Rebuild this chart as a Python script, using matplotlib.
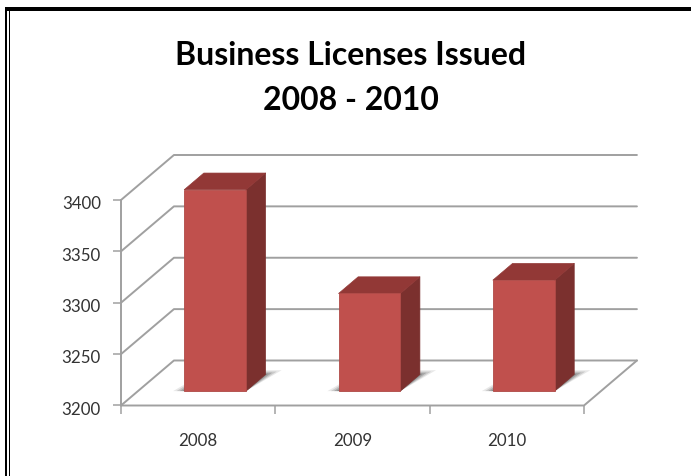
import matplotlib
matplotlib.use('Agg')
import matplotlib.pyplot as plt
from matplotlib.patches import Polygon, Rectangle
from matplotlib.transforms import ScaledTranslation

years = ['2008', '2009', '2010']
licenses = [3396, 3295, 3308]
y_ticks = [3200, 3250, 3300, 3350, 3400]

title = 'Business Licenses Issued\n2008 - 2010'

# how far the back wall sits from the front plane, in data units
DEPTH_X = 0.343
DEPTH_Y = 43.8
BAR_FRONT = 0.32
BAR_BACK = 0.69
BAR_WIDTH = 0.40

FRONT = '#C0504D'
SIDE = '#7B302E'
TOP = '#923836'
GRID = '#A0A0A0'
TEXT = '#333333'

W, H = 691, 476
plt.rcParams['font.family'] = ['Lato', 'DejaVu Sans']

fig = plt.figure(figsize=(W / 100, H / 100), dpi=100)
ax = fig.add_axes([121 / W, 1 - 405.5 / H, 463 / W, 205.5 / H])
ax.set_xlim(0, 3)
ax.set_ylim(3200, 3400)
for s in ax.spines.values():
    s.set_visible(False)
ax.patch.set_visible(False)


def project(x, y, depth):
    return x + DEPTH_X * depth, y + DEPTH_Y * depth


def line(points):
    xs = [p[0] for p in points]
    ys = [p[1] for p in points]
    ax.plot(xs, ys, color=GRID, lw=1.4, clip_on=False, zorder=1, solid_capstyle='round')


# walls and floor
for v in y_ticks:
    line([(0, v), project(0, v, 1), project(3, v, 1)])
line([(0, 3200), (0, 3400)])
line([(0, 3200), (3, 3200), project(3, 3200, 1)])

ax.set_xticks([0, 1, 2, 3])
ax.set_xticklabels([])
ax.set_xticks([0.5, 1.5, 2.5], minor=True)
ax.set_xticklabels(years, minor=True)
ax.set_yticks(y_ticks)
ax.tick_params(axis='x', which='major', length=5.5, width=1.1, color=GRID)
ax.tick_params(axis='x', which='minor', length=0, pad=20, labelsize=12.2, labelcolor=TEXT)
ax.tick_params(axis='y', length=5.5, width=1.1, color=GRID, pad=9, labelsize=12.2, labelcolor=TEXT)

# labels in the reference sit a little under their ticks
nudge = ScaledTranslation(0, -2 / 72, fig.dpi_scale_trans)
for label in ax.get_yticklabels():
    label.set_transform(label.get_transform() + nudge)

for i, v in enumerate(licenses):
    left = i + 0.5 - BAR_WIDTH / 2
    right = i + 0.5 + BAR_WIDTH / 2
    base = project(0, 3200, BAR_FRONT)[1]
    front_x = project(left, 0, BAR_FRONT)[0]
    top = base + v - 3200

    # soft shadow on the floor, a few stacked layers
    for grow, alpha in [(0.072, 0.14), (0.05, 0.22), (0.03, 0.32), (0.012, 0.42)]:
        ax.add_patch(Polygon([
            (front_x - grow, base),
            (front_x + BAR_WIDTH, base),
            project(right + grow, 3200, BAR_BACK + grow * 1.3),
            project(left, 3200, BAR_BACK + grow * 1.3),
        ], closed=True, fc='#606060', ec='none', alpha=alpha, clip_on=False, zorder=2))

    # side and top faces
    ax.add_patch(Polygon([
        project(right, base - BAR_FRONT * DEPTH_Y, BAR_FRONT),
        project(right, base - BAR_FRONT * DEPTH_Y, BAR_BACK),
        project(right, top - BAR_FRONT * DEPTH_Y, BAR_BACK),
        project(right, top - BAR_FRONT * DEPTH_Y, BAR_FRONT),
    ], closed=True, fc=SIDE, ec=SIDE, lw=0.5, clip_on=False, zorder=3, joinstyle='round'))
    ax.add_patch(Polygon([
        project(left, top - BAR_FRONT * DEPTH_Y, BAR_FRONT),
        project(right, top - BAR_FRONT * DEPTH_Y, BAR_FRONT),
        project(right, top - BAR_FRONT * DEPTH_Y, BAR_BACK),
        project(left, top - BAR_FRONT * DEPTH_Y, BAR_BACK),
    ], closed=True, fc=TOP, ec=TOP, lw=0.5, clip_on=False, zorder=3, joinstyle='round'))

    # front face
    ax.bar(front_x, v - 3200, width=BAR_WIDTH, bottom=base, align='edge',
           color=FRONT, edgecolor='#B04A47', linewidth=0.6, clip_on=False, zorder=4)

fig.text(351 / W, 1 - 78 / H, title, ha='center', va='center', fontsize=23,
         fontweight='bold', color='black', linespacing=1.66)

# picture frame, double line on the left and heavy line on top
frame = [(0, 7, W, 3.5), (5, 7, 1.5, H - 7), (8.5, 7, 1.7, H - 7)]
for x, y, w, h in frame:
    fig.add_artist(Rectangle((x / W, 1 - (y + h) / H), w / W, h / H,
                             transform=fig.transFigure, fc='black', ec='none'))
fig.add_artist(Rectangle((0, 1 - 10.5 / H), 5 / W, 3.5 / H, transform=fig.transFigure,
                         fc='white', ec='none'))

fig.savefig('out.png', dpi=100)
